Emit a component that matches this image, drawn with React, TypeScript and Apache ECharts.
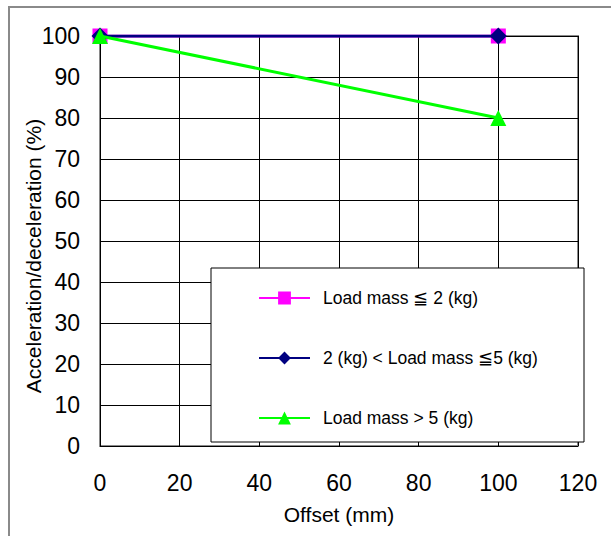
import React, { useEffect, useRef } from "react";
import * as echarts from "echarts";

const offsets: number[] = [0, 100];
const lightLoad: number[] = [100, 100];
const mediumLoad: number[] = [100, 100];
const heavyLoad: number[] = [100, 80];
const seriesNames: string[] = [
  "Load mass ≦ 2 (kg)",
  "2 (kg) < Load mass ≦5 (kg)",
  "Load mass > 5 (kg)",
];

const FONT = "Liberation Sans, Arial, sans-serif";

export default function App() {
  const ref = useRef<HTMLDivElement>(null);
  useEffect(() => {
    if (!ref.current) return;
    const chart = echarts.init(ref.current, undefined, { renderer: "svg" });
    const pairs = (ys: number[]) => offsets.map((x, i) => [x, ys[i]]);
    chart.setOption({
      animation: false,
      backgroundColor: "#ffffff",
      textStyle: { fontFamily: FONT },
      grid: { left: 100, top: 36, right: 33, bottom: 90, show: true, borderColor: "#8a8a8a", borderWidth: 2 },
      xAxis: {
        type: "value",
        min: 0,
        max: 120,
        interval: 20,
        name: "Offset (mm)",
        nameLocation: "middle",
        nameGap: 58,
        nameMoveOverlap: false,
        nameTextStyle: { fontSize: 21, color: "#000", fontFamily: FONT },
        axisLine: { show: false },
        axisTick: { show: false },
        axisLabel: { fontSize: 23, color: "#000", margin: 25, fontFamily: FONT },
        splitLine: { show: true, lineStyle: { color: "#000", width: 1 } },
      },
      yAxis: {
        type: "value",
        min: 0,
        max: 100,
        interval: 10,
        name: "Acceleration/deceleration (%)",
        nameLocation: "middle",
        nameGap: 56,
        nameMoveOverlap: false,
        nameTextStyle: { fontSize: 21, color: "#000", fontFamily: FONT, padding: [0, 30, 0, 0] },
        axisLine: { show: false },
        axisTick: { show: false },
        axisLabel: { fontSize: 23, color: "#000", margin: 20, fontFamily: FONT },
        splitLine: { show: true, lineStyle: { color: "#000", width: 1 } },
      },
      legend: {
        orient: "vertical",
        left: 253,
        top: 284,
        itemWidth: 51,
        itemHeight: 16,
        itemGap: 42,
        z: 10,
        textStyle: { fontSize: 17.5, lineHeight: 16, color: "#000", fontFamily: FONT, padding: [0, 0, 0, 8] },
        data: seriesNames,
      },
      graphic: [
        {
          type: "rect",
          shape: { x: 9, y: 7, width: 700, height: 700 },
          style: { fill: "none", stroke: "#8a8a8a", lineWidth: 2 },
          silent: true,
          z: 0,
        },
        {
          type: "rect",
          shape: { x: 211, y: 268, width: 373, height: 174 },
          style: { fill: "#ffffff", stroke: "#000000", lineWidth: 1 },
          silent: true,
          z: 5,
        },
      ],
      series: [
        {
          name: seriesNames[0],
          type: "line",
          data: pairs(lightLoad),
          symbol: "rect",
          symbolSize: 15,
          lineStyle: { color: "#ff00ff", width: 3 },
          itemStyle: { color: "#ff00ff" },
          z: 2,
        },
        {
          name: seriesNames[1],
          type: "line",
          data: pairs(mediumLoad),
          symbol: "diamond",
          symbolSize: 17,
          lineStyle: { color: "#000080", width: 3 },
          itemStyle: { color: "#000080" },
          z: 3,
        },
        {
          name: seriesNames[2],
          type: "line",
          data: pairs(heavyLoad),
          symbol: "triangle",
          symbolSize: 16,
          lineStyle: { color: "#00ff00", width: 3 },
          itemStyle: { color: "#00ff00" },
          z: 4,
        },
      ],
    });
    return () => chart.dispose();
  }, []);
  return (
    <div
      ref={ref}
      style={{ position: "fixed", left: 0, top: 0, width: 611, height: 536 }}
    />
  );
}
